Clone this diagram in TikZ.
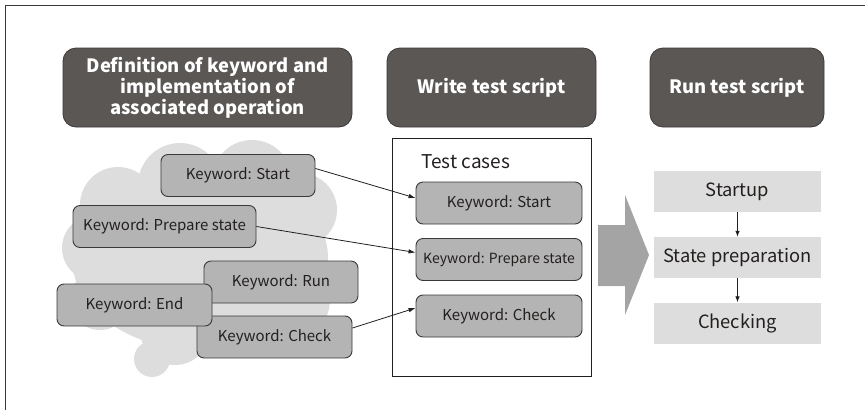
\documentclass[tikz,border=0pt]{standalone}
\usepackage{fontspec}
\setmainfont{Noto Sans CJK JP}
\usetikzlibrary{arrows.meta}
\definecolor{hdr}{HTML}{5A5755}
\definecolor{kwfill}{HTML}{B4B4B4}
\definecolor{kwline}{HTML}{3C3A39}
\definecolor{cloud}{HTML}{DCDDDC}
\definecolor{bigarrow}{HTML}{A3A4A3}
\definecolor{txt}{HTML}{231F1F}
\tikzset{
  header/.style={draw=kwline, line width=0.8pt, fill=hdr, rounded corners=13pt, text=white, font=\fontsize{18.4}{21}\selectfont\bfseries, align=center, minimum height=79pt, inner sep=0pt},
  kw/.style={draw=kwline, line width=0.9pt, fill=kwfill, rounded corners=7pt, text=txt, font=\fontsize{15}{17}\selectfont, minimum height=42pt, inner sep=0pt},
  stage/.style={fill=cloud, text=txt, font=\fontsize{18.3}{21}\selectfont, minimum width=167pt, minimum height=41pt, inner sep=0pt},
  link/.style={draw=txt, line width=0.8pt, -{Latex[length=7pt,width=4.5pt]}},
}
\begin{document}
\begin{tikzpicture}[x=1pt,y=-1pt]
\useasboundingbox (0,0) rectangle (865,410);
\draw[line width=1pt, draw=kwline] (865,5) -- (5,5) -- (5,410);
% cloud
\begin{scope}[fill=cloud]
\fill (200,258) ellipse [x radius=128pt, y radius=92pt];
\fill (118,205) circle [radius=38pt];
\fill (180,185) circle [radius=42pt];
\fill (252,180) circle [radius=40pt];
\fill (300,210) circle [radius=37pt];
\fill (95,248) circle [radius=33pt];
\fill (100,300) circle [radius=30pt];
\fill (175,330) circle [radius=35pt];
\fill (152,359) circle [radius=18pt];
\fill (290,300) circle [radius=40pt];
\end{scope}
% headers
\node[header, minimum width=289pt] (h1) at (207.5,87.5) {Definition of keyword and\\implementation of\\associated operation};
\node[header, minimum width=209pt] (h2) at (491.5,87.5) {Write test script};
\node[header, minimum width=174pt] (h3) at (737,87.5) {Run test script};
% left keyword boxes
\node[kw, minimum width=154pt] (ks) at (238,175.5) {Keyword: Start};
\node[kw, minimum width=183pt] (kp) at (164.5,226.5) {Keyword: Prepare state};
\node[kw, minimum width=154pt] (kr) at (281,282) {Keyword: Run};
\node[kw, minimum width=155pt] (kc) at (274.5,337) {Keyword: Check};
\node[kw, minimum width=155pt] (ke) at (134.5,305) {Keyword: End};
% test cases frame
\node[draw=txt, line width=0.9pt, minimum width=199pt, minimum height=238pt, inner sep=0pt] (tc) at (491.5,257) {};
\node[anchor=west, text=txt, font=\fontsize{19}{22}\selectfont, inner sep=0pt] (tcl) at (421,162) {Test cases};
\node[kw, minimum width=166pt] (ts) at (499,203) {Keyword: Start};
\node[kw, minimum width=166pt, font=\fontsize{14}{16}\selectfont] (tp) at (499,259.5) {Keyword: Prepare state};
\node[kw, minimum width=166pt] (tk) at (499,316) {Keyword: Check};
% connectors
\draw[link] ([yshift=7pt]ks.east) -- ([yshift=5pt]ts.west);
\draw[link] (kp.east) -- ([yshift=7pt]tp.west);
\draw[link] ([yshift=9pt]kc.east) -- ([yshift=8pt]tk.west);
% big arrow
\fill[bigarrow] (598,225) -- (625,225) -- (625,195) -- (649,255) -- (625,315) -- (625,286) -- (598,286) -- cycle;
% stages
\node[stage] (s1) at (737.5,191.5) {Startup};
\node[stage] (s2) at (737.5,257.5) {State preparation};
\node[stage] (s3) at (737.5,323) {Checking};
\draw[link, -{Latex[length=6pt,width=4.5pt]}] (s1) -- (s2);
\draw[link, -{Latex[length=6pt,width=4.5pt]}] (s2) -- (s3);
\end{tikzpicture}
\end{document}
